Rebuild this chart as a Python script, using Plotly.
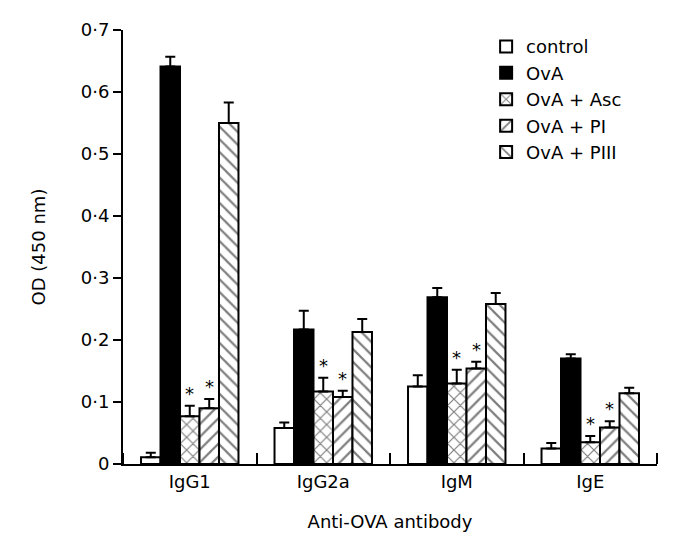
import plotly.graph_objects as go

categories = ["IgG1", "IgG2a", "IgM", "IgE"]
series_names = ["control", "OvA", "OvA + Asc", "OvA + PI", "OvA + PIII"]

control = [0.011, 0.058, 0.125, 0.025]
ova = [0.641, 0.217, 0.269, 0.170]
ova_asc = [0.077, 0.117, 0.130, 0.035]
ova_pi = [0.090, 0.108, 0.154, 0.059]
ova_piii = [0.550, 0.213, 0.258, 0.114]

control_err = [0.007, 0.009, 0.018, 0.009]
ova_err = [0.016, 0.030, 0.015, 0.007]
ova_asc_err = [0.017, 0.022, 0.022, 0.010]
ova_pi_err = [0.015, 0.010, 0.011, 0.010]
ova_piii_err = [0.033, 0.021, 0.018, 0.009]

significant = [False, False, True, True, False]

values = [control, ova, ova_asc, ova_pi, ova_piii]
errors = [control_err, ova_err, ova_asc_err, ova_pi_err, ova_piii_err]

FONT = "DejaVu Sans"
def pat(shape):
    return dict(shape=shape, fgcolor="black", bgcolor="white", size=9, solidity=0.25, fillmode="overlay")

styles = [
    dict(color="white", pattern=None),
    dict(color="black", pattern=None),
    dict(color="white", pattern=pat("x")),
    dict(color="white", pattern=pat("/")),
    dict(color="white", pattern=pat("\\")),
]

xpos = list(range(len(categories)))
bargap = 0.27
nser = len(series_names)
bw = (1 - bargap) / nser

fig = go.Figure()
annotations = []
for i, (name, vals, errs, st) in enumerate(zip(series_names, values, errors, styles)):
    marker = dict(color=st["color"], line=dict(color="black", width=2))
    if st["pattern"] is not None:
        marker["pattern"] = st["pattern"]
    fig.add_trace(go.Bar(
        x=xpos, y=vals, name=name, marker=marker,
        error_y=dict(type="data", symmetric=False, array=errs, arrayminus=[0] * len(errs),
                     color="black", thickness=2, width=5),
    ))
    if significant[i]:
        for g in xpos:
            cx = g - (1 - bargap) / 2 + bw * (i + 0.5)
            annotations.append(dict(
                x=cx, y=vals[g] + errs[g], xref="x", yref="y", text="*",
                showarrow=False, yanchor="bottom", yshift=0,
                font=dict(family=FONT, size=18, color="black"),
            ))

fig.update_layout(
    width=699, height=542,
    margin=dict(l=115, r=50, t=22, b=86),
    paper_bgcolor="white", plot_bgcolor="white",
    barmode="group", bargap=bargap, bargroupgap=0,
    font=dict(family=FONT, size=18, color="black"),
    annotations=annotations,
    legend=dict(x=0.68, y=1.004, xanchor="left", yanchor="top",
                font=dict(family=FONT, size=18), itemsizing="constant",
                tracegroupgap=0, bgcolor="rgba(0,0,0,0)"),
    showlegend=True,
)
fig.update_xaxes(
    automargin=False,
    range=[-0.5, 3.5], tickvals=xpos, ticktext=categories, ticks="",
    showline=True, linecolor="black", linewidth=2, showgrid=False, zeroline=False,
    minor=dict(tick0=0.5, dtick=1, ticks="inside", ticklen=11, tickwidth=2, tickcolor="black", showgrid=False),
    title=dict(text="Anti-OVA antibody", standoff=25, font=dict(size=18)),
    tickfont=dict(size=18),
)
fig.update_yaxes(
    automargin=False,
    range=[0, 0.7], tickvals=[0, 0.1, 0.2, 0.3, 0.4, 0.5, 0.6, 0.7],
    ticktext=["0", "0·1", "0·2", "0·3", "0·4", "0·5", "0·6", "0·7"],
    ticks="outside", ticklen=8, tickwidth=2, tickcolor="black",
    showline=True, linecolor="black", linewidth=2, showgrid=False, zeroline=False,
    title=dict(text="OD (450 nm)", standoff=30, font=dict(size=18)),
    tickfont=dict(size=18),
)

fig.write_html("out.html")
